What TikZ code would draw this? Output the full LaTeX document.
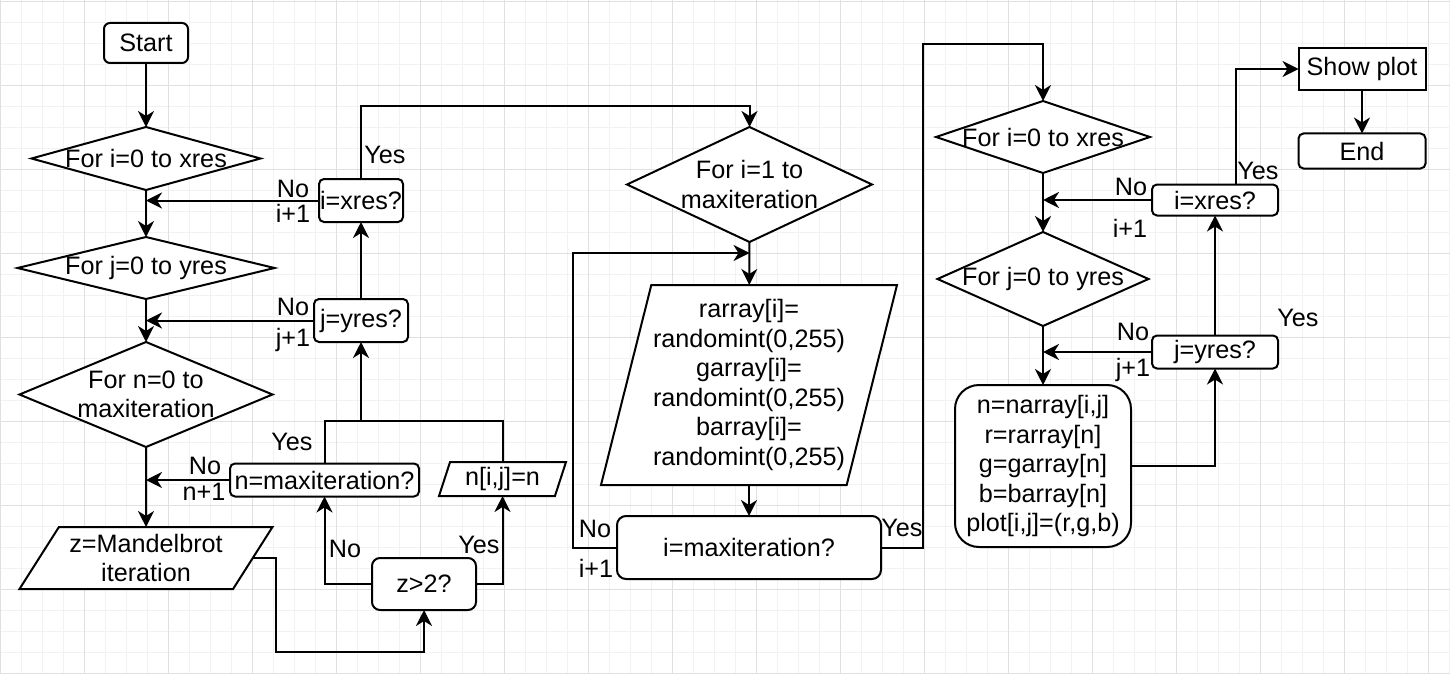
\documentclass[tikz,border=0pt]{standalone}
\usepackage{fontspec}
\setmainfont{Liberation Sans}
\usetikzlibrary{positioning}
\usetikzlibrary{arrows.meta}
\usetikzlibrary{shapes.geometric}

% text that may stick out of a diamond
\newcommand{\narrowtext}[1]{\makebox[0pt]{#1}}

\begin{document}
\begin{tikzpicture}[x=1pt,y=-1pt,>={Stealth[length=16pt,width=16pt,inset=5pt]},line width=2pt,
	font=\fontsize{25.2}{29.5}\selectfont,
	box/.style={draw,fill=white,rounded corners=5pt,outer sep=0pt,inner sep=0.5pt,align=center},
	test/.style={draw,fill=white,diamond,outer sep=0pt,inner sep=0pt,align=center},
	io/.style={draw,fill=white,trapezium,trapezium stretches body,outer sep=0pt,inner sep=0pt,align=center},
	lbl/.style={inner sep=0pt,anchor=base},
	gridminor/.style={line width=1pt,black!5},
	gridmajor/.style={line width=1pt,black!12}]
	\useasboundingbox (0,0) rectangle (1450,674);

	% background grid
	\foreach \gx in {0,21,...,1449} \draw[gridminor] (\gx,0) -- (\gx,674);
	\foreach \gy in {1.7,22.7,...,674} \draw[gridminor] (0,\gy) -- (1450,\gy);
	\foreach \gx in {0,84,...,1449} \draw[gridmajor] (\gx,0) -- (\gx,674);
	\foreach \gy in {1.7,85.7,...,674} \draw[gridmajor] (0,\gy) -- (1450,\gy);

	% left column
	\node[box,rounded corners=6pt,minimum width=84pt,minimum height=40pt] (start) at (146,43) {Start};
	\node[test,minimum width=229pt,minimum height=63pt] (forI1) at (146,158.5) {\narrowtext{For i=0 to xres}};
	\node[test,minimum width=257pt,minimum height=62pt] (forJ1) at (146,268) {\narrowtext{For j=0 to yres}};
	\node[test,minimum width=253pt,minimum height=105pt] (forN) at (146,394.5) {\narrowtext{For n=0 to}\\\narrowtext{maxiteration}};
	\node[io,trapezium left angle=50.6,trapezium right angle=129.4,minimum width=253pt,minimum height=62pt] (mandel) at (146,558) {z=Mandelbrot\\iteration};

	\node[box,minimum width=84pt,minimum height=43pt] (ixres1) at (361,200.5) {i=xres?};
	\node[box,minimum width=94pt,minimum height=43pt] (jyres1) at (361,320.5) {j=yres?};
	\node[box,minimum width=189pt,minimum height=33pt] (nmax) at (324.5,480) {n=maxiteration?};
	\node[io,trapezium left angle=64.8,trapezium right angle=115.2,minimum width=127pt,minimum height=34pt] (nij) at (502.5,479) {n[i,j]=n};
	\node[box,rounded corners=8pt,minimum width=104pt,minimum height=52pt] (zgt) at (424,584) {z>2?};

	% middle column
	\node[test,minimum width=245pt,minimum height=115pt] (forI2) at (749.5,184.5) {\narrowtext{For i=1 to}\\\narrowtext{maxiteration}};
	\node[io,trapezium left angle=73.6,trapezium right angle=106.4,minimum width=296pt,minimum height=200pt] (rgb) at (749,385) {rarray[i]=\\randomint(0,255)\\garray[i]=\\randomint(0,255)\\barray[i]=\\randomint(0,255)};
	\node[box,rounded corners=9pt,minimum width=264pt,minimum height=63pt] (imax) at (749,547.5) {i=maxiteration?};

	% right column
	\node[test,minimum width=214pt,minimum height=72pt] (forI3) at (1043,137) {\narrowtext{For i=0 to xres}};
	\node[test,minimum width=211pt,minimum height=94pt] (forJ3) at (1043,279) {\narrowtext{For j=0 to yres}};
	\node[box,rounded corners=24pt,minimum width=176pt,minimum height=162pt] (pix) at (1043,466) {n=narray[i,j]\\r=rarray[n]\\g=garray[n]\\b=barray[n]\\plot[i,j]=(r,g,b)};
	\node[box,minimum width=126pt,minimum height=31pt] (ixres3) at (1215,200) {i=xres?};
	\node[box,minimum width=126pt,minimum height=33pt] (jyres3) at (1215,352) {j=yres?};
	\node[box,sharp corners,minimum width=127pt,minimum height=42pt] (show) at (1362,69) {Show plot};
	\node[box,minimum width=127pt,minimum height=35pt] (finish) at (1362,151) {End};

	% bends
	\coordinate (up1) at (361,106);
	\coordinate (merge) at (361,421);
	\coordinate (back2) at (749.5,253);
	\coordinate (top3) at (923,44);

	% connectors, left
	\draw[->] (start) -- (forI1);
	\draw[->] (forI1) -- (forJ1);
	\draw[->] (forJ1) -- (forN);
	\draw[->] (forN) -- (mandel);
	\draw[->] (ixres1.west) -- (ixres1.west -| forI1.south);
	\draw[->] (jyres1.west) -- (jyres1.west -| forJ1.south);
	\draw[->] (nmax.west) -- (nmax.west -| forN.south);
	\draw[->] (jyres1) -- (ixres1);
	\draw[->] (ixres1.north) -- (up1) -| (forI2.north);
	\draw[->] (mandel.east) -| ++(23,94) -| (zgt.south);
	\draw[->] (zgt.west) -| (nmax.south);
	\draw[->] (zgt.east) -| (nij.south);
	\draw (nmax.north) |- (merge);
	\draw (nij.north) |- (merge);
	\draw[->] (merge) -- (jyres1.south);

	% connectors, middle
	\draw[->] (forI2) -- (rgb);
	\draw[->] (rgb) -- (imax);
	\draw[->] (imax.west) -- ++(-44,0) |- (back2);
	\draw[->] (imax.east) -| (top3) -| (forI3.north);

	% connectors, right
	\draw[->] (forI3) -- (forJ3);
	\draw[->] (forJ3) -- (pix);
	\draw[->] (ixres3.west) -- (ixres3.west -| forI3.south);
	\draw[->] (jyres3.west) -- (jyres3.west -| forJ3.south);
	\draw[->] (pix.east) -| (jyres3.south);
	\draw[->] (jyres3) -- (ixres3);
	\draw[->] ([xshift=21pt]ixres3.north) |- (show.west);
	\draw[->] (show) -- (finish);

	% yes / no labels
	\node[lbl] (no1) at (293,197) {No};
	\node[lbl] (inc1) at (293,222) {i+1};
	\node[lbl] (no2) at (293,315) {No};
	\node[lbl] (inc2) at (293,346) {j+1};
	\node[lbl] (yes1) at (385,163) {Yes};
	\node[lbl] (yes2) at (292,450) {Yes};
	\node[lbl] (no3) at (205,474) {No};
	\node[lbl] (inc3) at (204,500) {n+1};
	\node[lbl] (no4) at (345,557) {No};
	\node[lbl] (yes3) at (479,553) {Yes};
	\node[lbl] (no5) at (595,537) {No};
	\node[lbl] (inc4) at (596,577) {i+1};
	\node[lbl] (yes4) at (902,536) {Yes};
	\node[lbl] (no6) at (1131,195) {No};
	\node[lbl] (inc5) at (1130,237) {i+1};
	\node[lbl] (yes5) at (1258,179) {Yes};
	\node[lbl] (no7) at (1133,340) {No};
	\node[lbl] (inc6) at (1133,376) {j+1};
	\node[lbl] (yes6) at (1298,326) {Yes};
\end{tikzpicture}
\end{document}
